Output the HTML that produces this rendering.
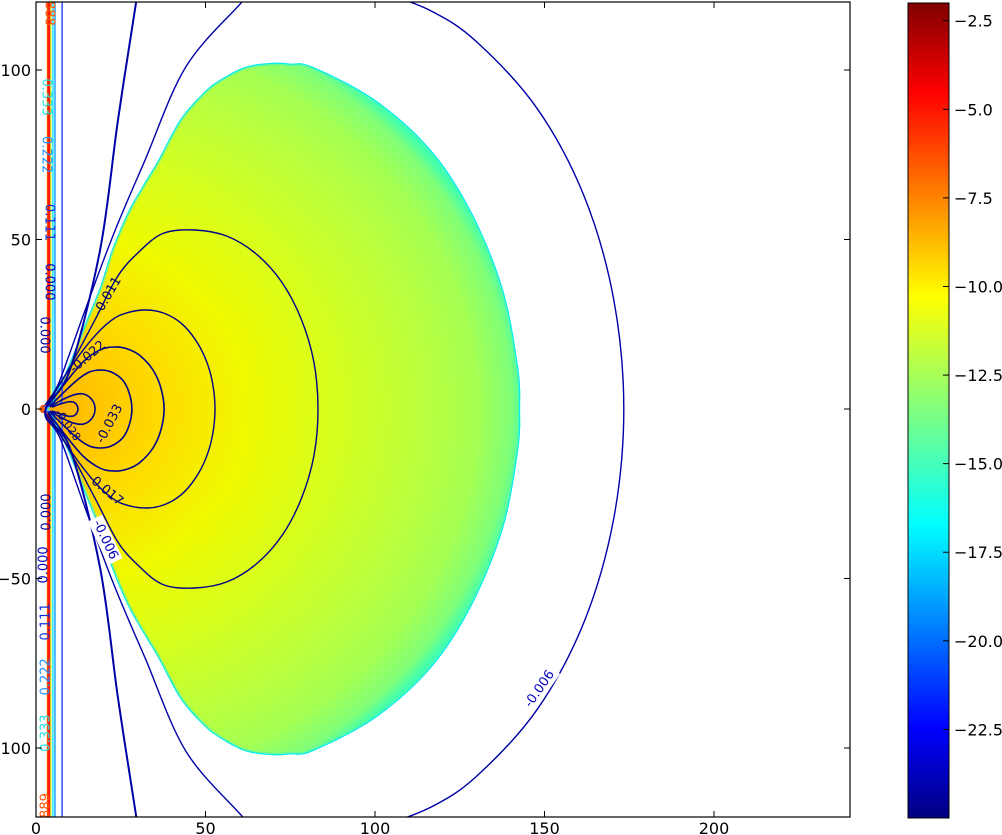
<!DOCTYPE html>
<html><head><meta charset="utf-8">
<style>
html,body{margin:0;padding:0;background:#fff;overflow:hidden;width:1002px;height:835px}
svg{display:block}
text{font-family:"DejaVu Sans","Liberation Sans",sans-serif}
</style></head>
<body>
<svg id="chart" width="1002" height="835" viewBox="0 0 1002 835" xmlns="http://www.w3.org/2000/svg">
<defs>
<clipPath id="plotclip"><rect x="36" y="2" width="814" height="815"/></clipPath>
<radialGradient id="fieldgrad" gradientUnits="userSpaceOnUse" cx="46" cy="409" r="480" gradientTransform="translate(46 409) scale(1 0.88) translate(-46 -409)">
<stop offset="0" stop-color="#ffa800"/><stop offset="0.08" stop-color="#ffc000"/><stop offset="0.22" stop-color="#ffd800"/><stop offset="0.42" stop-color="#f0fa00"/><stop offset="0.62" stop-color="#d4ff20"/><stop offset="0.8" stop-color="#b8ff40"/><stop offset="0.9" stop-color="#a4ff52"/><stop offset="0.97" stop-color="#80ff78"/><stop offset="1" stop-color="#40ffb0"/>
</radialGradient>
<linearGradient id="jet" x1="0" y1="1" x2="0" y2="0">
<stop offset="0" stop-color="#000080"/><stop offset="0.11" stop-color="#0000ff"/><stop offset="0.36" stop-color="#00ffff"/><stop offset="0.5" stop-color="#80ff80"/><stop offset="0.64" stop-color="#ffff00"/><stop offset="0.89" stop-color="#ff0000"/><stop offset="1" stop-color="#800000"/>
</linearGradient>
</defs>
<g id="plot" clip-path="url(#plotclip)"></g>
<rect x="36" y="2" width="814" height="815" fill="none" stroke="#000" stroke-width="1.2"/>
<g id="axes"></g>
<rect x="908" y="3" width="41" height="815" fill="url(#jet)" stroke="#000" stroke-width="1"/>
<g id="cbar"></g>
</svg>
<script>
// ---- data ----
const xTicks = [0, 50, 100, 150, 200];
const yTicks = [100, 50, 0, -50, -100];
const cbTicks = [-2.5, -5.0, -7.5, -10.0, -12.5, -15.0, -17.5, -20.0, -22.5];
const cbMin = -25, cbMax = -2;
// filled region boundary (upper half, mirrored)
const regionUpper = [[142.8,0],[142.2,12.4],[137.8,35.1],[128.6,57.8],[116.5,76.4],[100,91.2],[81.7,100.9],[75,101.9],[69.6,102.1],[61.7,100.9],[54.3,97.1],[49.3,93.2],[42.5,85.3],[36.1,73.5],[31.3,65.5],[27,57.8],[22.4,46.9],[18.9,36],[14.7,25.7],[11.2,16.8],[7.1,7.1],[3.2,0]];
// contour lines (upper halves, mirrored)
const cOuter = [[173.4,0],[170.4,32.4],[161.8,62.5],[148,88.4],[130,108.3],[116.4,117.5],[101.8,123.1]];
const cLine2 = [[2.7,1.2],[7.1,8.6],[14.5,29.2],[23,51.9],[32.2,73.5],[44.2,100.9],[60.5,119.8],[66,126]];
const cSteep = [[2.7,1.2],[10,11.5],[18.9,46.9],[24.2,85.3],[29.5,119.8],[30.5,126]];
const cA = [[83.2,0],[82,13.7],[78.3,26.4],[72.6,37.3],[65,45.7],[56.3,51],[46.9,52.8],[37.5,51.8],[30,46],[24,39],[17.4,26.3],[8.6,10],[2.7,1.2]];
const cB = [[52.8,0],[52.1,7.6],[50.1,14.6],[46.9,20.6],[42.8,25.3],[37.9,28.2],[32.7,29.2],[27,28.4],[22,26],[16,20],[9,10.5],[3.5,1.2]];
const cC = [[37.8,0],[36.8,6.3],[34.5,11.5],[30.6,15.8],[27,17.7],[23.3,18.3],[19,17.5],[14,14],[8.5,7.5],[3.5,0.9]];
const cD = [[28.3,0],[27.4,5],[25.5,8.6],[22.2,10.9],[18.9,11.5],[15.5,10.8],[11.5,8],[4.1,0.9]];
const cE = [[17.4,0],[16.6,2.6],[14.2,4.4],[11.2,4.2],[7.5,2.6],[4.1,0.6]];
const cF = [[12.4,0],[11.5,1.8],[9.4,2.1],[4.7,0.6]];
const stripX = [3.4, 3.8, 4.4, 5.0, 5.6, 7.7];
const stripColors = ['#ff8c00','#ff1a00','#c8ff30','#00e0ff','#0090ff','#3050ff'];
const stripWidths = [1.5, 3, 1.2, 1.3, 1.3, 1.5];
const stripLabels = ['0.888','0.333','0.222','0.111','0.000','0.000','0.000','0.000','0.111','0.222','0.333','0.889'];
const stripLabelX = [3.8, 2.9, 2.9, 3.8, 3.8, 2.4, 3.2, 2.4, 2.9, 2.9, 2.9, 2.9];
const stripLabelY = [118.5, 92, 75, 55, 37.5, 21.8, -30.4, -46, -62.8, -79, -95.6, -118.8];
const stripLabelColors = ['#ff5000','#20e0e0','#2090ff','#1030e0','#0000c0','#0000a0','#0000a0','#0000c0','#1030e0','#2090ff','#20e0e0','#ff5000'];
const cLabels = ['-0.011','-0.022','-0.033','-0.017','-0.006','-0.006','-0.028'];
const cLabelX = [21.2, 15.3, 21.8, 20.4, 20.4, 148.6, 9.4];
const cLabelY = [33.3, 15.3, -4.4, -23.9, -38.6, -82.6, -4.7];
const cLabelRot = [-60, -40, -62, 40, 65, -55, 55];

// ---- scales ----
const X = v => 36 + v * 3.39;
const Y = v => 409 - v * 3.39;
const CB = v => 3 + (cbMax - v) / (cbMax - cbMin) * 815;
const NS = 'http://www.w3.org/2000/svg';
const plot = document.getElementById('plot');
const axes = document.getElementById('axes');
const cbar = document.getElementById('cbar');
function mk(tag, attrs, parent){const e=document.createElementNS(NS,tag);for(const k in attrs)e.setAttribute(k,attrs[k]);parent.appendChild(e);return e;}
function full(upper){const low=upper.slice().reverse().map(p=>[p[0],-p[1]]);return low.concat(upper.slice(1));}
function smooth(pts, closed){
  const p=pts.map(q=>[X(q[0]),Y(q[1])]);
  let d='M'+p[0][0].toFixed(1)+' '+p[0][1].toFixed(1);
  for(let i=0;i<p.length-1;i++){
    const p0=p[i-1]||p[i],p1=p[i],p2=p[i+1],p3=p[i+2]||p[i+1];
    const c1=[p1[0]+(p2[0]-p0[0])/6,p1[1]+(p2[1]-p0[1])/6];
    const c2=[p2[0]-(p3[0]-p1[0])/6,p2[1]-(p3[1]-p1[1])/6];
    d+=' C'+c1[0].toFixed(1)+' '+c1[1].toFixed(1)+' '+c2[0].toFixed(1)+' '+c2[1].toFixed(1)+' '+p2[0].toFixed(1)+' '+p2[1].toFixed(1);
  }
  return d+(closed?' Z':'');
}
// filled region
const regPts = full(regionUpper);
const regD = smooth(regPts, true);
mk('clipPath',{id:'regclip'},document.querySelector('defs'));
mk('path',{d:regD},document.getElementById('regclip'));
const reg = mk('path',{d:regD,fill:'url(#fieldgrad)'},plot);


const rim = mk('path',{d:regD,fill:'none',stroke:'#50f8b0','stroke-width':5,'stroke-opacity':0.6,'clip-path':'url(#regclip)'},plot);


const rim2 = mk('path',{d:regD,fill:'none',stroke:'#00e8ff','stroke-width':2,'clip-path':'url(#regclip)'},plot);


// strip lines
stripX.forEach((sx,i)=>{
  const d='M'+X(sx)+' '+Y(125)+' L'+X(sx)+' '+Y(2.5)+' Q'+X(sx)+' '+Y(0.8)+' '+X(1.5)+' '+Y(0.6)+' M'+X(sx)+' '+Y(-125)+' L'+X(sx)+' '+Y(-2.5)+' Q'+X(sx)+' '+Y(-0.8)+' '+X(1.5)+' '+Y(-0.6);
  const l=mk('path',{d:d,fill:'none',stroke:stripColors[i],'stroke-width':stripWidths[i]},plot);
  
  
});
mk('circle',{cx:X(1.8),cy:Y(0),r:3,fill:'#ff6000'},plot);
// contours
const contours=[cOuter,cLine2,cSteep,cA,cB,cC,cD,cE,cF];
const cw=[1.4,1.4,2,1.4,1.4,1.6,1.6,1.6,1.6];
contours.forEach((c,i)=>{
  const l=mk('path',{d:smooth(full(c),false),fill:'none',stroke:i<3?'#0000a8':'#00008b','stroke-width':cw[i]},plot);
  
  
});
// strip labels
stripLabels.forEach((t,i)=>{
  const x=X(stripLabelX[i]),y=Y(stripLabelY[i]);
  const tx=mk('text',{x:x,y:y,'font-size':13,fill:stripLabelColors[i],'text-anchor':'middle','dominant-baseline':'central',transform:'rotate('+(stripLabelY[i]>0?90:-90)+' '+x+' '+y+')'},plot);
  tx.textContent=t;
  
  
});
// contour labels
cLabels.forEach((t,i)=>{
  const x=X(cLabelX[i]),y=Y(cLabelY[i]);
  if(i>=4&&i<=5){const bg=mk('rect',{x:x-24,y:y-8,width:48,height:16,fill:'#fff',transform:'rotate('+cLabelRot[i]+' '+x+' '+y+')'},plot);
    
    }
  const tx=mk('text',{x:x,y:y,'font-size':i==6?11:13,fill:i>=4&&i<=5?'#0000c0':'#00006e','text-anchor':'middle','dominant-baseline':'central',transform:'rotate('+cLabelRot[i]+' '+x+' '+y+')'},plot);
  tx.textContent=t;
  
  
});
// axes ticks/labels
xTicks.forEach(v=>{
  const x=X(v);
  const t1=mk('line',{x1:x,y1:817,x2:x,y2:811,stroke:'#000','stroke-width':1},axes);
  
  
  const t2=mk('line',{x1:x,y1:2,x2:x,y2:8,stroke:'#000','stroke-width':1},axes);
  
  
  const tl=mk('text',{x:x,y:834,'font-size':16,'text-anchor':'middle',fill:'#000'},axes);
  tl.textContent=String(v);
  
  
});
yTicks.forEach(v=>{
  const y=Y(v);
  const t1=mk('line',{x1:36,y1:y,x2:42,y2:y,stroke:'#000','stroke-width':1},axes);
  
  
  const t2=mk('line',{x1:850,y1:y,x2:844,y2:y,stroke:'#000','stroke-width':1},axes);
  
  
  const tl=mk('text',{x:31,y:y+6,'font-size':16,'text-anchor':'end',fill:'#000'},axes);
  tl.textContent=(v<0?'\u2212':'')+Math.abs(v);
  
  
});
cbTicks.forEach(v=>{
  const y=CB(v);
  const t=mk('line',{x1:949,y1:y,x2:943,y2:y,stroke:'#000','stroke-width':1},cbar);
  
  
  const tl=mk('text',{x:954,y:y+6,'font-size':16,fill:'#000'},cbar);
  tl.textContent='\u2212'+Math.abs(v).toFixed(1);
  
  
});
</script>
</body></html>
